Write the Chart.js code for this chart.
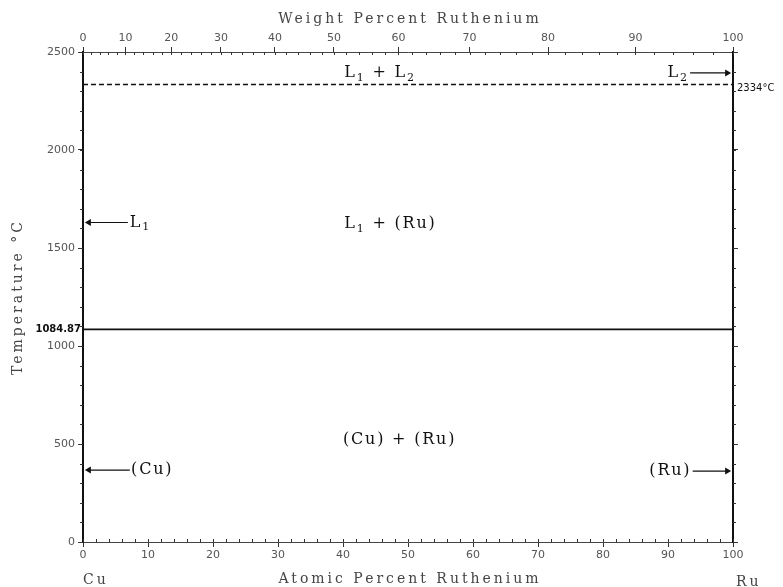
<!DOCTYPE html>
<html lang="en">
<head>
<meta charset="UTF-8">
<title>Cu-Ru Phase Diagram</title>
<script src="https://cdn.jsdelivr.net/npm/chart.js"></script>
<style>
    body { margin: 0; background: #fff; }
    #wrap { width: 783px; height: 587px; }
</style>
</head>
<body>
<div id="wrap"><canvas id="chart" width="783" height="587"></canvas></div>
<script>
    // atomic masses, used to place the weight percent ticks on the top axis
    const MASS_CU = 63.546;
    const MASS_RU = 101.07;

    // tick labels
    const atomicTicks = [0, 10, 20, 30, 40, 50, 60, 70, 80, 90, 100];
    const weightTicks = [0, 10, 20, 30, 40, 50, 60, 70, 80, 90, 100];
    const tempTicks = [0, 500, 1000, 1500, 2000, 2500];
    const minorTempStep = 100;
    const minorAtomicStep = 2;
    const minorWeightStep = 2;

    // invariant lines (at.% Ru, temperature)
    const cuMeltX = [0, 100];
    const cuMeltT = [1084.87, 1084.87];
    const ruMeltX = [0, 100];
    const ruMeltT = [2334, 2334];

    // arrows: [tip, tail]
    const arrowL1X = [0.9, 6.9];   const arrowL1T = [1630, 1630];
    const arrowL2X = [99.1, 93.4]; const arrowL2T = [2393, 2393];
    const arrowCuX = [0.9, 7.2];   const arrowCuT = [367, 367];
    const arrowRuX = [99.1, 93.8]; const arrowRuT = [362, 362];

    // phase field labels ('_' = next char subscript)
    const phaseText = ['L_1 + L_2', 'L_1 + (Ru)', '(Cu) + (Ru)', 'L_1', 'L_2', '(Cu)', '(Ru)'];
    const phaseX = [40.2, 40.2, 40.0, 7.2, 93.2, 7.4, 93.6];
    const phaseT = [2393, 1622, 520, 1630, 2393, 367, 362];
    const phaseAlign = ['left', 'left', 'left', 'left', 'right', 'left', 'right'];

    function wtToAt(w) {
        if (w <= 0) return 0;
        if (w >= 100) return 100;
        const ru = w / MASS_RU, cu = (100 - w) / MASS_CU;
        return 100 * ru / (ru + cu);
    }

    function pts(xs, ts) {
        return xs.map((x, i) => ({ x: x, y: ts[i] }));
    }

    function arrow(xs, ts, rot) {
        return {
            data: pts(xs, ts),
            showLine: true,
            borderColor: '#111',
            borderWidth: 1.2,
            pointRadius: [4, 0],
            pointStyle: 'triangle',
            pointRotation: rot,
            pointBackgroundColor: '#111',
            pointBorderWidth: 0
        };
    }

    // draw text with single-char subscripts
    function drawRich(ctx, str, x, y, size, align) {
        const parts = [];
        for (let i = 0; i < str.length; i++) {
            if (str[i] === '_') { parts.push({ t: str[i + 1], sub: true }); i++; }
            else parts.push({ t: str[i], sub: false });
        }
        const fontFor = p => (p.sub ? Math.round(size * 0.7) : size) + 'px "DejaVu Serif"';
        let total = 0;
        parts.forEach(p => { ctx.font = fontFor(p); p.w = ctx.measureText(p.t).width; total += p.w; });
        let cx = align === 'right' ? x - total : x;
        ctx.textAlign = 'left';
        ctx.textBaseline = 'middle';
        parts.forEach(p => {
            ctx.font = fontFor(p);
            ctx.fillText(p.t, cx, p.sub ? y + size * 0.3 : y);
            cx += p.w;
        });
    }

    const decorations = {
        id: 'decorations',
        afterDraw(chart) {
            const { ctx, chartArea: a, scales } = chart;
            ctx.save();

            // minor ticks
            ctx.strokeStyle = '#333';
            ctx.lineWidth = 1;
            ctx.beginPath();
            for (let t = 0; t <= 2500; t += minorTempStep) {
                const y = Math.round(scales.y.getPixelForValue(t)) + 0.5;
                ctx.moveTo(a.left - 3, y); ctx.lineTo(a.left, y);
                ctx.moveTo(a.right, y); ctx.lineTo(a.right + 3, y);
            }
            for (let p = 0; p <= 100; p += minorAtomicStep) {
                const x = Math.round(scales.x.getPixelForValue(p)) + 0.5;
                ctx.moveTo(x, a.bottom); ctx.lineTo(x, a.bottom - 3);
            }
            for (let w = 0; w <= 100; w += minorWeightStep) {
                const x = Math.round(scales.x2.getPixelForValue(wtToAt(w))) + 0.5;
                ctx.moveTo(x, a.top); ctx.lineTo(x, a.top + 3);
            }
            ctx.stroke();

            // phase labels
            ctx.fillStyle = '#111';
            ctx.letterSpacing = '1.8px';
            phaseText.forEach((s, i) => {
                drawRich(ctx, s, scales.x.getPixelForValue(phaseX[i]),
                    scales.y.getPixelForValue(phaseT[i]), 16, phaseAlign[i]);
            });
            ctx.letterSpacing = '0px';

            // special temperatures
            ctx.font = 'bold 10px "DejaVu Sans"';
            ctx.textAlign = 'right';
            ctx.textBaseline = 'middle';
            ctx.fillText('1084.87', a.left - 2, scales.y.getPixelForValue(cuMeltT[0]));
            ctx.font = '10px "DejaVu Sans"';
            ctx.textAlign = 'left';
            ctx.fillText('2334°C', a.right + 4, scales.y.getPixelForValue(ruMeltT[1]) + 4);

            // axis titles
            const mid = (a.left + a.right) / 2;
            ctx.fillStyle = '#444';
            ctx.font = '14px "DejaVu Serif"';
            ctx.letterSpacing = '3px';
            ctx.textAlign = 'center';
            ctx.fillText('Weight Percent Ruthenium', mid + 2, a.top - 33);
            ctx.fillText('Atomic Percent Ruthenium', mid + 2, a.bottom + 37);
            ctx.textAlign = 'left';
            ctx.fillText('Cu', a.left, a.bottom + 38);
            ctx.fillText('Ru', a.right + 3, a.bottom + 40);
            ctx.save();
            ctx.translate(18, (a.top + a.bottom) / 2);
            ctx.rotate(-Math.PI / 2);
            ctx.textAlign = 'center';
            ctx.fillText('Temperature °C', 0, 0);
            ctx.restore();

            ctx.restore();
        }
    };

    const tickFont = { family: 'DejaVu Sans', size: 11 };
    const axisGrid = { drawOnChartArea: false, drawTicks: true, tickLength: 5, color: '#333' };
    const plainLabel = v => String(v);

    new Chart(document.getElementById('chart'), {
        type: 'scatter',
        data: {
            datasets: [
                { data: pts(cuMeltX, cuMeltT), showLine: true, borderColor: '#111', borderWidth: 1.6, pointRadius: 0 },
                { data: pts(ruMeltX, ruMeltT), showLine: true, borderColor: '#111', borderWidth: 1.6, borderDash: [5, 3], pointRadius: 0 },
                arrow(arrowL1X, arrowL1T, 270),
                arrow(arrowL2X, arrowL2T, 90),
                arrow(arrowCuX, arrowCuT, 270),
                arrow(arrowRuX, arrowRuT, 90)
            ]
        },
        options: {
            responsive: false,
            animation: false,
            plugins: { legend: { display: false }, tooltip: { enabled: false } },
            scales: {
                x: {
                    type: 'linear', position: 'bottom', min: 0, max: 100,
                    afterBuildTicks: s => { s.ticks = atomicTicks.map(v => ({ value: v })); },
                    ticks: { font: tickFont, color: '#555', padding: 2, autoSkip: false, maxRotation: 0, callback: plainLabel },
                    grid: axisGrid,
                    border: { color: '#444', width: 1 },
                    afterFit: s => { s.height = 45; }
                },
                x2: {
                    type: 'linear', position: 'top', min: 0, max: 100,
                    afterBuildTicks: s => { s.ticks = weightTicks.map(w => ({ value: wtToAt(w) })); },
                    ticks: { font: tickFont, color: '#555', padding: 2, autoSkip: false, maxRotation: 0,
                             callback: (v, i) => String(weightTicks[i]) },
                    grid: axisGrid,
                    border: { color: '#444', width: 1 },
                    afterFit: s => { s.height = 52; }
                },
                y: {
                    type: 'linear', position: 'left', min: 0, max: 2500,
                    afterBuildTicks: s => { s.ticks = tempTicks.map(v => ({ value: v })); },
                    ticks: { font: tickFont, color: '#555', padding: 3, callback: plainLabel },
                    grid: axisGrid,
                    border: { color: '#111', width: 2 },
                    afterFit: s => { s.width = 83; }
                },
                y2: {
                    type: 'linear', position: 'right', min: 0, max: 2500,
                    afterBuildTicks: s => { s.ticks = tempTicks.map(v => ({ value: v })); },
                    ticks: { display: false },
                    grid: axisGrid,
                    border: { color: '#111', width: 2 },
                    afterFit: s => { s.width = 50; }
                }
            }
        },
        plugins: [decorations]
    });
</script>
</body>
</html>
